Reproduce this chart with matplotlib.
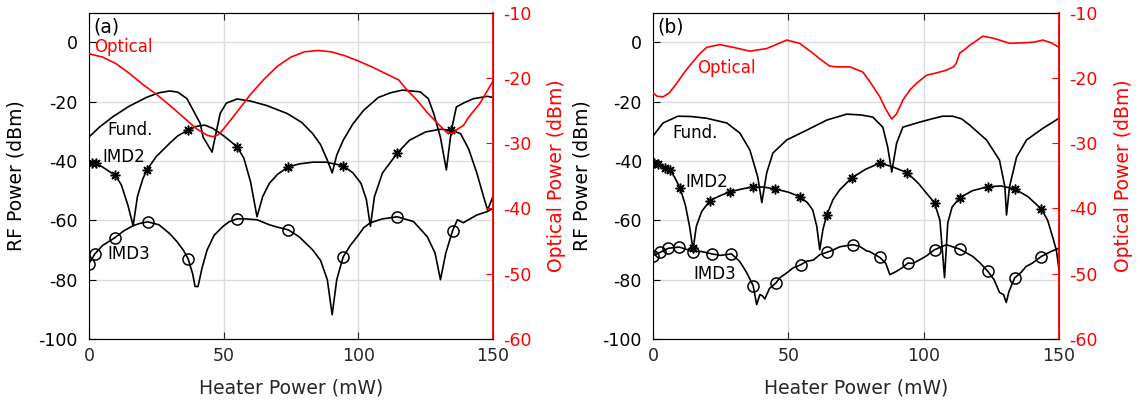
import numpy as np
import matplotlib
matplotlib.use("Agg")
import matplotlib.pyplot as plt

plt.rcParams['font.family'] = ['DejaVu Sans']
plt.rcParams['axes.unicode_minus'] = False

# ---------------- panel (a) ----------------
a_fund_x = [0, 4, 9, 15, 21.5, 26, 30, 33, 36.4, 38.7, 41.3, 42.4, 45.7, 48.7, 51, 55, 60, 66, 73.6,
            79, 83, 86, 88.5, 90.3, 92, 94.4, 98, 102, 107.4, 112, 116.4, 123, 126, 128, 130.5,
            132.7, 134.5, 136.4, 139, 142.7, 148, 150]
a_fund_y = [-31.9, -28.5, -25, -21.5, -18.5, -17, -16.4, -16.8, -19, -22.9, -27.3, -32, -37, -24, -20.5,
            -19.1, -19.8, -21.3, -24, -27, -30.7, -34.5, -39.7, -44, -38, -33, -27.5, -22.9, -18.6,
            -17, -16.1, -16.7, -19, -24, -32, -43, -30, -21.8, -20.5, -19, -18.2, -18.6]

a_imd2_x = [0, 1.1, 2.6, 5, 7.5, 9.7, 12, 14.5, 16.4, 18, 20, 21.5, 25, 30, 33, 36.8, 40, 43, 46, 50,
            55, 57.5, 60, 62.4, 64.5, 67, 70, 74, 78, 83, 88, 94.4, 98, 101, 103, 104.5, 106, 109,
            114.5, 119, 125, 130.5, 134.6, 138, 141, 144, 146.5, 148, 150]
a_imd2_y = [-40.7, -40.7, -40.8, -42, -43.5, -44.7, -48, -55, -61.8, -52, -46, -43, -38.5, -34, -31.5,
            -29.6, -28.3, -27.9, -29, -31.5, -35.2, -39, -47, -58.8, -52, -47.5, -44.5, -42, -41,
            -40.4, -40.4, -41.6, -44, -47.5, -53, -62, -52, -44, -37.3, -33, -30.2, -29.3, -29.6,
            -30.8, -36, -44, -52, -56.5, -52]

a_imd3_x = [0, 2.2, 5, 9.7, 13, 16.4, 19, 21.9, 26, 30, 32.7, 35, 36.8, 38.5, 39.4, 40.5, 42, 43.9,
            46.5, 49.8, 52, 55, 58, 62.4, 67, 70, 74, 78, 83, 86, 88.5, 90.3, 92, 94.4, 97, 99.6,
            102, 104.5, 109, 114.5, 120.5, 125.6, 128.5, 130.5, 132.5, 135, 136.8, 139, 144, 148, 150]
a_imd3_y = [-74.6, -71.3, -68.5, -65.8, -63.5, -61.8, -61, -60.5, -61.5, -64.5, -67.2, -70, -72.9, -78,
            -82.3, -82.3, -76, -69.9, -65, -62, -60.5, -59.5, -59.5, -59.8, -61.5, -62.3, -63.2,
            -65.5, -69.9, -73.5, -80, -91.8, -80, -72.3, -68.5, -65.5, -62.5, -60.8, -59.5, -58.8,
            -60.4, -65.5, -71, -80, -71, -63.5, -59.8, -60.8, -58.2, -57, -56]

a_opt_x = [0, 5, 10, 15, 20, 25, 30, 35, 40, 44, 46, 48, 50, 55, 60, 65, 70, 75, 80, 85, 90, 95, 100,
           105, 110, 115, 118, 122, 126, 130, 133, 135, 137, 139, 141, 145, 150]
a_opt_y = [-16.3, -16.8, -17.8, -19.3, -21, -22.5, -24.2, -26, -27.8, -28.8, -29, -28.7, -27.8, -25.2,
           -22.5, -20.2, -18.2, -16.8, -16.0, -15.8, -16.0, -16.6, -17.4, -18.3, -19.3, -20.3,
           -21.8, -23.5, -25.5, -27.2, -28.4, -28.5, -27.8, -27.3, -26.0, -24, -20.5]

a_mark_x = [1.1, 2.6, 9.7, 21.5, 36.8, 55, 74, 94.4, 114.5, 134.6]
a_circ_x = [0, 2.2, 9.7, 21.9, 36.8, 55, 74, 94.4, 114.5, 135]

# ---------------- panel (b) ----------------
b_fund_x = [0, 3.7, 9.2, 14, 19.9, 27.3, 32.1, 35.8, 38.7, 40.2, 42, 44.3, 49.4, 56.8, 64.2, 71.6, 77,
            81.2, 84.9, 86.7, 88.2, 90, 92.3, 98.5, 103, 107, 110.7, 114, 117, 123.2, 128, 130,
            130.6, 131.7, 134.3, 138, 144, 150]
b_fund_y = [-31.6, -27.2, -24.9, -25, -25.6, -27.2, -30.6, -36.3, -45.4, -54, -44, -37.3, -32.9, -29.6,
            -26.2, -24.2, -24.5, -25.2, -28.6, -35.3, -43.7, -34, -28.6, -26.9, -25.8, -24.9, -24.9,
            -25.8, -27.9, -32.9, -39.7, -48.7, -58.2, -48.7, -38.7, -32.9, -29, -25.6]

b_imd2_x = [0, 0.4, 1.8, 4.4, 6.3, 8, 10, 12, 13.5, 14.8, 16, 18, 21, 24.5, 28.4, 32.5, 36.9, 41, 45,
            50, 54.2, 57, 59, 60.5, 61.6, 62.8, 64.2, 66.5, 69, 73.4, 78.5, 83.8, 88.6, 94, 98, 101,
            104, 106, 107.7, 108.9, 110.5, 113.3, 118, 123.6, 128.5, 133.6, 138.5, 143.5, 145.8,
            147.6, 149, 150]
b_imd2_y = [-40.5, -40.7, -41, -42.4, -43, -45.5, -49.1, -55, -62, -69.9, -62, -57, -53.4, -51.8, -50.4,
            -49.5, -48.7, -48.8, -49.4, -50.5, -52, -54, -56.5, -62, -69.9, -63, -58.2, -53, -49.7,
            -45.7, -42.8, -40.7, -42, -44, -47.5, -50.8, -54.1, -60, -79.3, -60.8, -55.5, -52.4,
            -50, -48.7, -48.4, -49.4, -52, -56.2, -60, -65.5, -70, -76.6]

b_imd3_x = [0, 2.6, 5.7, 9.7, 14.9, 18, 21.7, 25, 29, 32, 34.6, 37, 38.3, 39.5, 40.5, 41.3, 43, 45.4,
            46.9, 49, 51.8, 54.5, 56.7, 59.2, 61.6, 64.1, 66.5, 69, 73.9, 76.4, 78.9, 80, 83.8, 86,
            87.5, 89.9, 92, 94.2, 96, 98.5, 101, 104, 108.4, 113.3, 118.2, 121, 123.7, 126, 128,
            129.5, 130.5, 131.5, 133.6, 136, 137.9, 140, 143.4, 147, 150]
b_imd3_y = [-71.9, -70.8, -69.4, -69, -70.5, -70.5, -71.3, -71.8, -71.3, -73.8, -77.6, -82, -88.4, -85,
            -85.5, -86.5, -83, -81.1, -79.3, -78, -76, -75, -73.8, -73.4, -71.6, -70.8, -70, -68.9,
            -68.2, -68.8, -70.3, -70.5, -72.5, -74.5, -78.3, -77.2, -76, -74.4, -74.5, -73.3, -72,
            -69.9, -68.2, -69.7, -72.2, -74.5, -77.2, -80, -84.3, -85, -87.7, -84, -79.4, -77.5,
            -75.5, -74.5, -72.2, -70.5, -69.4]

b_opt_x = [0, 1.5, 3.7, 6, 8.8, 11.5, 14.8, 17.5, 19.9, 24.7, 29.5, 35.8, 42, 46, 49.4, 54.2, 59, 62,
           65.3, 68, 72.7, 77.5, 80, 83.8, 86, 88.2, 90, 92.3, 95, 97.4, 101, 105, 108.5, 111, 112,
           113.3, 115, 117, 119.5, 121.8, 125.5, 128, 131.7, 138, 141, 144, 147, 150]
b_opt_y = [-22.3, -22.8, -22.9, -22.3, -20.8, -19.2, -17.5, -16.2, -15.3, -14.9, -15.3, -15.9, -15.5,
           -14.8, -14.2, -14.7, -16.2, -17.2, -18.2, -18.3, -18.3, -19.1, -20.5, -22.9, -24.8,
           -26.3, -25.5, -23.4, -21.8, -20.8, -19.6, -19.2, -18.8, -18.3, -17.8, -16.2, -15.7, -15,
           -14.3, -13.6, -13.9, -14.2, -14.7, -14.6, -14.5, -14.2, -14.6, -15.3]

b_mark_x = [0.4, 1.8, 4.4, 6.3, 10, 14.9, 21, 28.4, 36.9, 45, 54.2, 64.2, 73.4, 83.8, 94, 104, 113.3,
            123.6, 133.6, 143.5]
b_circ_x = [0, 2.6, 5.7, 9.7, 14.9, 21.7, 29, 37, 45.4, 54.5, 64.1, 73.9, 83.8, 94.2, 104, 113.3,
            123.7, 133.6, 143.4]

TXT = '#262626'
ASTER = (8, 2, 0)


def draw_panel(ax, tag, fund, imd2, imd3, opt, mark_x, circ_x, labels, rf_lab_x, opt_lab_x):
    lw = 1.2
    ax.plot(*fund, color='k', lw=lw, zorder=3)
    ax.plot(*imd2, color='k', lw=lw, zorder=3)
    ax.plot(*imd3, color='k', lw=lw, zorder=3)
    # markers sit on the measured traces
    ax.plot(mark_x, np.interp(mark_x, *imd2), ls='none', marker=ASTER, ms=7, mew=1.1, color='k', zorder=4)
    ax.plot(circ_x, np.interp(circ_x, *imd3), ls='none', marker='o', ms=8, mfc='none', mew=1.1,
            color='k', zorder=4)

    ax.set_xlim(0, 150)
    ax.set_ylim(-100, 10)
    ax.set_xticks([0, 50, 100, 150])
    ax.set_yticks([-100, -80, -60, -40, -20, 0])
    ax.grid(True, color='#dcdcdc', lw=1.0)
    ax.set_axisbelow(True)
    ax.tick_params(direction='in', length=5, top=True, right=False, labelsize=12.5, pad=6)
    ax.tick_params(axis='x', colors=TXT)
    ax.tick_params(axis='y', colors='k', pad=8)
    for s in ['left', 'top', 'bottom']:
        ax.spines[s].set_color('k')
    ax.set_xlabel('Heater Power (mW)', fontsize=13.5, color=TXT)
    ax.xaxis.set_label_coords(0.5, -0.12)
    ax.set_ylabel('RF Power (dBm)', fontsize=13.5, color='k')
    ax.yaxis.set_label_coords(rf_lab_x, 0.5)

    for txt, x, y, col in labels:
        ax.text(x, y, txt, fontsize=12, color=col, va='center', ha='left', zorder=5)
    ax.text(0.01, 0.985, tag, transform=ax.transAxes, fontsize=13.5, va='top', ha='left', color='k')

    ax2 = ax.twinx()
    ax2.plot(*opt, color='#ff0000', lw=1.2, zorder=2)
    ax2.set_ylim(-60, -10)
    ax2.set_yticks([-60, -50, -40, -30, -20, -10])
    ax2.tick_params(direction='in', length=5, colors='#ff0000', labelsize=12.5, pad=7)
    ax2.spines['right'].set_color('#ff0000')
    ax2.spines['right'].set_linewidth(1.3)
    ax2.spines['left'].set_visible(False)
    ax2.set_ylabel('Optical Power (dBm)', fontsize=13.5, color='#ff0000')
    ax2.yaxis.set_label_coords(opt_lab_x, 0.5)
    return ax2


fig = plt.figure(figsize=(11.39, 4.08), dpi=100)
ax_a = fig.add_axes([0.0781, 0.169, 0.3547, 0.800])
ax_b = fig.add_axes([0.5733, 0.169, 0.3565, 0.800])

draw_panel(ax_a, '(a)', (a_fund_x, a_fund_y), (a_imd2_x, a_imd2_y), (a_imd3_x, a_imd3_y),
           (a_opt_x, a_opt_y), a_mark_x, a_circ_x,
           [('Optical', 2, -1.5, '#ff0000'), ('Fund.', 7, -29.6, 'k'),
            ('IMD2', 4.8, -38.6, 'k'), ('IMD3', 7, -71.3, 'k')],
           rf_lab_x=-0.157, opt_lab_x=1.135)
draw_panel(ax_b, '(b)', (b_fund_x, b_fund_y), (b_imd2_x, b_imd2_y), (b_imd3_x, b_imd3_y),
           (b_opt_x, b_opt_y), b_mark_x, b_circ_x,
           [('Optical', 16.2, -8.8, '#ff0000'), ('Fund.', 7, -30.6, 'k'),
            ('IMD2', 11.8, -47, 'k'), ('IMD3', 14.8, -78, 'k')],
           rf_lab_x=-0.152, opt_lab_x=1.135)

fig.savefig('out.png', dpi=100)
